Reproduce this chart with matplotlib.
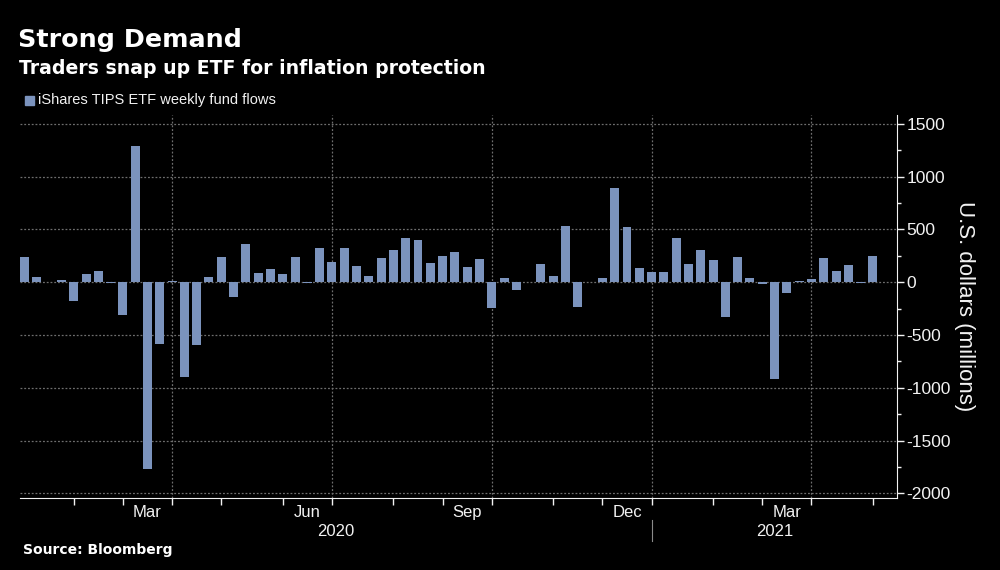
import numpy as np
import pandas as pd
import matplotlib
matplotlib.use("Agg")
import matplotlib.pyplot as plt
import matplotlib.transforms as mtransforms
from matplotlib.ticker import MultipleLocator

# weekly fund flows, US$ millions, one bar per week starting on this Friday
first_week = "2020-01-10"
flows = [238, 48, 4, 22, -175, 79, 108, -4, -311, 1295,
         -1768, -581, 16, -898, -594, 54, 238, -137, 359, 86,
         124, 79, 238, -4, 324, 194, 324, 156, 57, 232,
         308, 422, 403, 178, 248, 283, 149, 225, -244, 41,
         -73, 4, 171, 63, 537, -238, 4, 41, 898, 527,
         133, 95, 95, 416, 171, 302, 210, -333, 241, 41,
         -19, -914, -98, 16, 35, 232, 102, 159, -4, 248]
month_labels = ["Mar", "Jun", "Sep", "Dec"]
y_ticks = [-2000, -1500, -1000, -500, 0, 500, 1000, 1500]

bar_color = "#7b93bd"
grid_color = "#6e6e6e"
txt_color = "#f2f2f2"
narrow = ["Liberation Sans", "DejaVu Sans"]

plt.rcParams["axes.unicode_minus"] = False

dates = pd.date_range(first_week, periods=len(flows), freq="7D")
pos = np.arange(len(flows))

fig = plt.figure(figsize=(10, 5.7), dpi=100, facecolor="black")
ax = fig.add_axes([0.02, 0.1263, 0.877, 0.6719], facecolor="black")

ax.bar(pos, flows, width=0.73, color=bar_color, zorder=3)

xmin, xmax = -0.37, len(flows) + 0.96
ax.set_xlim(xmin, xmax)
ax.set_ylim(-2045, 1585)

# month starts -> ticks, quarter starts -> vertical grid
starts = [i for i in range(1, len(dates)) if dates[i].month != dates[i - 1].month]
ax.set_xticks(starts)
ax.set_xticklabels([])
for i in starts:
    if dates[i].month in (1, 4, 7, 10):
        ax.axvline(i, color=grid_color, lw=0.9, ls=(0, (1.5, 1.5)), zorder=1)

trans = mtransforms.blended_transform_factory(ax.transData, ax.transAxes)
for a, b in zip(starts[:-1], starts[1:]):
    name = dates[a].strftime("%b")
    if name in month_labels:
        ax.text((a + b) / 2, -0.017, name, transform=trans, ha="center", va="top",
                color=txt_color, fontsize=12, family=narrow)

# years
jan = [i for i in starts if dates[i].month == 1][0]
ax.text((xmin + jan) / 2, -0.068, "2020", transform=trans, ha="center", va="top",
        color=txt_color, fontsize=12, family=narrow)
ax.text((jan + xmax) / 2, -0.068, "2021", transform=trans, ha="center", va="top",
        color=txt_color, fontsize=12, family=narrow)
ax.plot([jan, jan], [-0.057, -0.112], transform=trans, color="#8a8a8a", lw=0.8,
        clip_on=False)

ax.yaxis.tick_right()
ax.set_yticks(y_ticks)
ax.set_yticklabels([str(v) for v in y_ticks], family=narrow)
ax.yaxis.set_minor_locator(MultipleLocator(250))
ax.yaxis.grid(True, color=grid_color, lw=0.9, ls=(0, (1.5, 1.5)), zorder=1)

ax.tick_params(axis="y", which="major", colors=txt_color, labelsize=12.5, length=5, width=1, pad=2)
ax.tick_params(axis="y", which="minor", colors=txt_color, length=3, width=1)
ax.tick_params(axis="x", colors=txt_color, length=5, width=1)

for side in ["top", "left"]:
    ax.spines[side].set_visible(False)
ax.spines["right"].set_color(txt_color)
ax.spines["bottom"].set_color(txt_color)

fig.text(0.965, 1 - 306 / 570, "U.S. dollars (millions)", rotation=270, ha="center",
         va="center", color=txt_color, fontsize=16, family=narrow)

fig.text(0.018, 1 - 40 / 570, "Strong Demand", ha="left", va="center", color="white",
         fontsize=18.3, fontweight="bold", family="DejaVu Sans")
fig.text(0.019, 1 - 68 / 570, "Traders snap up ETF for inflation protection", ha="left",
         va="center", color="white", fontsize=13.6, fontweight="bold", family="DejaVu Sans")

fig.patches.append(plt.Rectangle((0.025, 1 - 105 / 570), 0.009, 9 / 570, color=bar_color,
                                 transform=fig.transFigure, figure=fig))
fig.text(0.038, 1 - 100 / 570, "iShares TIPS ETF weekly fund flows", ha="left", va="center",
         color=txt_color, fontsize=10.5, family=narrow)

fig.text(0.023, 1 - 550 / 570, "Source: Bloomberg", ha="left", va="center", color="white",
         fontsize=10, fontweight="bold", family="DejaVu Sans")

fig.savefig("out.png", dpi=100, facecolor="black")
